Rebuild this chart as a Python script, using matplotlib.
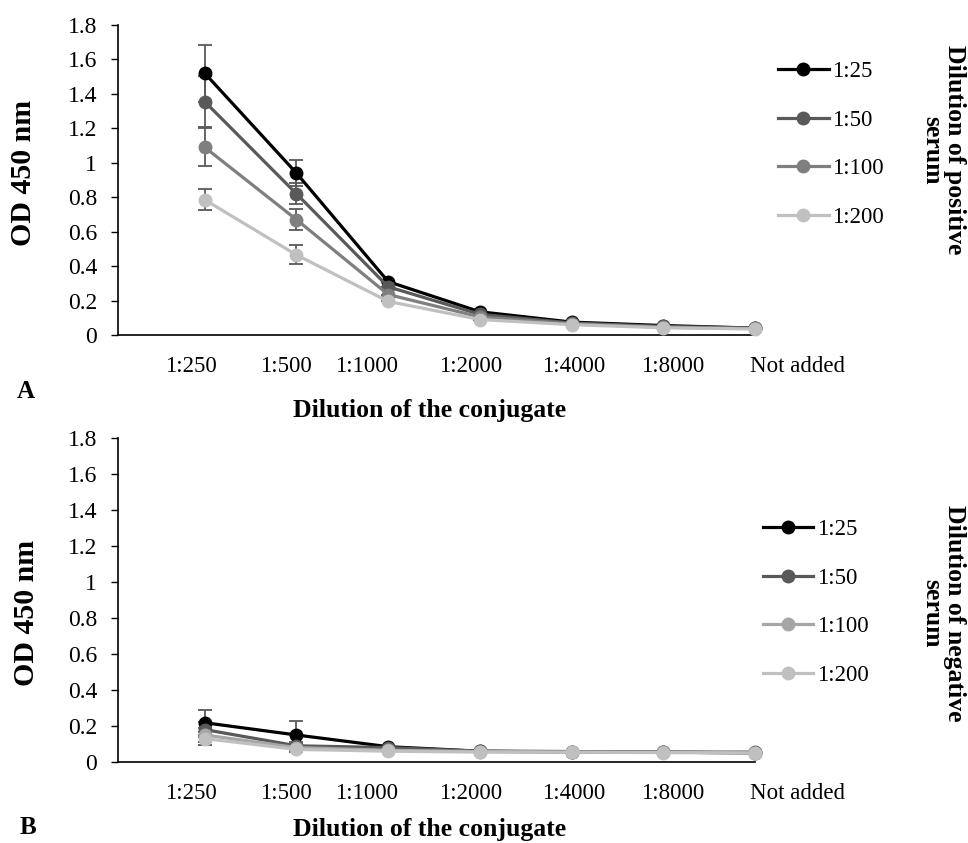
import matplotlib
matplotlib.use("Agg")
import matplotlib.pyplot as plt
from matplotlib.transforms import ScaledTranslation

plt.rcParams['font.family'] = ['Liberation Serif', 'DejaVu Serif']

# conjugate dilutions (x categories)
conjugate = ['1:250', '1:500', '1:1000', '1:2000', '1:4000', '1:8000', 'Not added']
serum = ['1:25', '1:50', '1:100', '1:200']

# panel A - positive serum
pos_25 = [1.52, 0.94, 0.31, 0.135, 0.075, 0.055, 0.04]
pos_50 = [1.355, 0.82, 0.28, 0.12, 0.07, 0.05, 0.04]
pos_100 = [1.09, 0.67, 0.235, 0.105, 0.065, 0.045, 0.038]
pos_200 = [0.785, 0.465, 0.195, 0.09, 0.06, 0.042, 0.035]
pos_err_25 = [0.165, 0.075, 0, 0, 0, 0, 0]
pos_err_50 = [0.15, 0.06, 0, 0, 0, 0, 0]
pos_err_100 = [0.11, 0.06, 0, 0, 0, 0, 0]
pos_err_200 = [0.06, 0.055, 0, 0, 0, 0, 0]

# panel B - negative serum
neg_25 = [0.218, 0.15, 0.085, 0.06, 0.058, 0.055, 0.05]
neg_50 = [0.18, 0.09, 0.08, 0.06, 0.055, 0.055, 0.055]
neg_100 = [0.15, 0.08, 0.065, 0.058, 0.055, 0.055, 0.05]
neg_200 = [0.13, 0.07, 0.06, 0.055, 0.055, 0.052, 0.05]
neg_err_25 = [0.07, 0.075, 0, 0, 0, 0, 0]
neg_err_50 = [0.04, 0.02, 0, 0, 0, 0, 0]
neg_err_100 = [0.04, 0.02, 0, 0, 0, 0, 0]
neg_err_200 = [0.035, 0.015, 0, 0, 0, 0, 0]

yticks = [0, 0.2, 0.4, 0.6, 0.8, 1.0, 1.2, 1.4, 1.6, 1.8]
ytick_labels = ['0', '0.2', '0.4', '0.6', '0.8', '1', '1.2', '1.4', '1.6', '1.8']

# horizontal nudge of each category label (pixels), as in the original
label_shift_px = [-14, -11, -22, -9, 2, 9, 42]


def draw_panel(ax, series, errors, colors, legend_anchor):
    x = list(range(1, len(conjugate) + 1))
    handles = []
    for vals, err, col, name in zip(series, errors, colors, serum):
        ax.errorbar(x, vals, yerr=err, fmt='none', ecolor='#595959',
                    elinewidth=1.3, capsize=5, capthick=1.3, clip_on=False, zorder=2)
        line, = ax.plot(x, vals, color=col, lw=2.3, marker='o', ms=9,
                        label=name, clip_on=False, zorder=3)
        handles.append(line)
    ax.set_xticks(x)
    ax.set_xticklabels(conjugate)
    ax.set_xlim(0.055, 7.0)
    ax.set_ylim(0, 1.8)
    ax.set_yticks(yticks)
    ax.set_yticklabels(ytick_labels)
    ax.tick_params(axis='x', length=0, pad=15, labelsize=16.5)
    ax.tick_params(axis='y', direction='out', length=5, width=1, pad=10, labelsize=17)
    for lab, dx in zip(ax.get_xticklabels(), label_shift_px):
        lab.set_transform(lab.get_transform() +
                          ScaledTranslation(dx / 100, 0, ax.figure.dpi_scale_trans))
    for side in ['top', 'right']:
        ax.spines[side].set_visible(False)
    for side in ['left', 'bottom']:
        ax.spines[side].set_linewidth(1.2)
    ax.legend(handles=handles, loc='upper left', bbox_to_anchor=legend_anchor,
              frameon=False, fontsize=16.5, handlelength=2.2, handletextpad=0.15,
              labelspacing=1.2, borderaxespad=0)


fig = plt.figure(figsize=(9.68, 8.43), dpi=100)
ax1 = fig.add_axes([0.122, 0.6026, 0.658, 0.3677])
ax2 = fig.add_axes([0.122, 0.0961, 0.658, 0.3843])

draw_panel(ax1, [pos_25, pos_50, pos_100, pos_200],
           [pos_err_25, pos_err_50, pos_err_100, pos_err_200],
           ['#000000', '#595959', '#7f7f7f', '#c0c0c0'], (1.022, 0.913))
draw_panel(ax2, [neg_25, neg_50, neg_100, neg_200],
           [neg_err_25, neg_err_50, neg_err_100, neg_err_200],
           ['#000000', '#595959', '#a6a6a6', '#c0c0c0'], (0.998, 0.778))

fig.text(0.024, 0.795, 'OD 450 nm', fontsize=21.5, fontweight='bold',
         rotation=90, ha='center', va='center')
fig.text(0.027, 0.273, 'OD 450 nm', fontsize=21.5, fontweight='bold',
         rotation=90, ha='center', va='center')

fig.text(0.444, 0.513, 'Dilution of the conjugate', fontsize=18.5, fontweight='bold',
         ha='center', va='center')
fig.text(0.444, 0.016, 'Dilution of the conjugate', fontsize=18.5, fontweight='bold',
         ha='center', va='center')
fig.text(0.027, 0.535, 'A', fontsize=18, fontweight='bold', ha='center', va='center')
fig.text(0.029, 0.018, 'B', fontsize=18, fontweight='bold', ha='center', va='center')

fig.text(0.974, 0.822, 'Dilution of positive\nserum', fontsize=18.5, fontweight='bold',
         rotation=270, ha='center', va='center', linespacing=1.0)
fig.text(0.974, 0.272, 'Dilution of negative\nserum', fontsize=18.5, fontweight='bold',
         rotation=270, ha='center', va='center', linespacing=1.0)

fig.savefig('out.png', dpi=100, facecolor='white')
